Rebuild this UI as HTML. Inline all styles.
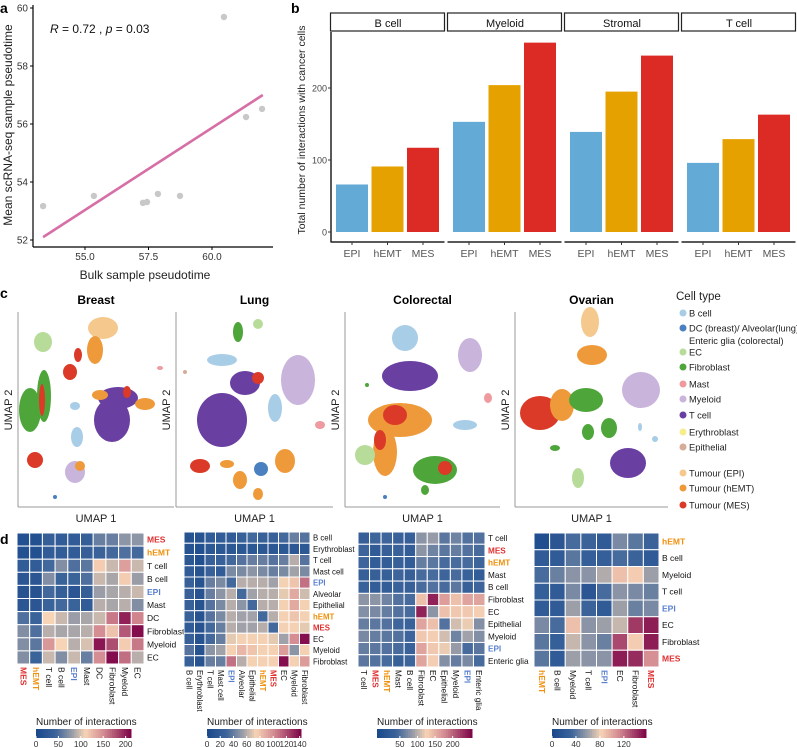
<!DOCTYPE html>
<html><head><meta charset="utf-8">
<style>
body{margin:0;background:#fff;}
svg{display:block;font-family:"Liberation Sans",sans-serif;}
</style></head>
<body>
<svg id="fig" width="797" height="747" viewBox="0 0 797 747" xmlns="http://www.w3.org/2000/svg">
<text x="0" y="13" font-size="14" font-weight="bold">a</text>
<text x="291" y="13" font-size="14" font-weight="bold">b</text>
<text x="0" y="298" font-size="14" font-weight="bold">c</text>
<text x="0" y="544" font-size="14" font-weight="bold">d</text>
<g id="pa"></g>
<g id="pb"></g>
<g id="pc"></g>
<g id="pd"></g>
</svg>
<script>
// ---- Panel a data ----
const scatterX = [53.35,55.35,57.28,57.44,57.87,58.74,60.47,61.34,61.97];
const scatterY = [53.17,53.52,53.28,53.31,53.59,53.52,59.69,56.24,56.52];
const fitX = [53.35,62.0];
const fitY = [52.10,57.0];
const aXTicks = [55.0,57.5,60.0];
const aXTickLabels = ["55.0","57.5","60.0"];
const aYTicks = [52,54,56,58,60];
// ---- Panel b data ----
const facets = ["B cell","Myeloid","Stromal","T cell"];
const groups = ["EPI","hEMT","MES"];
const barEPI = [66,153,139,96];
const barHEMT = [91,204,195,129];
const barMES = [117,263,245,163];
const bYTicks = [0,100,200];
// ---- Panel d data ----
const hm1Labels = ["MES","hEMT","T cell","B cell","EPI","Mast","DC","Fibroblast","Myeloid","EC"];
const hm1Values = [
[10,10,35,30,30,35,60,60,75,75],
[10,10,30,30,30,35,40,45,50,45],
[30,30,45,70,50,55,115,95,140,95],
[20,20,70,40,40,50,95,85,115,80],
[15,15,45,35,20,35,80,85,90,95],
[20,20,40,45,40,30,90,85,90,70],
[50,40,110,95,80,85,95,160,200,155],
[70,50,90,85,85,90,150,120,175,210],
[70,55,145,110,90,100,205,180,115,160],
[70,40,95,70,95,60,150,210,165,90]];
const hm1Ticks = [0,50,100,150,200];
const hm2Labels = ["B cell","Erythroblast","T cell","Mast cell","EPI","Alveolar","Epithelial","hEMT","MES","EC","Myeloid","Fibroblast"];
const hm2Values = [
[10,10,20,20,20,25,30,25,25,30,40,35],
[10,5,15,15,15,15,15,15,15,15,15,15],
[15,5,25,25,30,35,40,40,35,40,60,35],
[20,10,25,20,45,45,50,45,40,45,55,45],
[25,10,40,45,30,60,60,60,55,75,80,110],
[25,10,40,50,60,30,55,60,60,70,90,65],
[25,10,35,45,60,50,30,60,60,75,90,75],
[25,10,35,45,60,55,55,30,60,75,80,75],
[20,10,30,40,60,55,55,60,30,75,75,70],
[25,10,30,40,70,75,75,75,70,55,100,140],
[35,10,50,55,75,85,80,75,75,95,50,75],
[25,10,40,40,110,60,75,75,75,140,75,95]];
const hm2Ticks = [0,20,40,60,80,100,120,140];
const hm3Labels = ["T cell","MES","hEMT","Mast","B cell","Fibroblast","EC","Epithelial","Myeloid","EPI","Enteric glia"];
const hm3Values = [
[30,40,40,35,30,80,85,55,65,50,50],
[40,20,30,35,25,80,65,55,60,50,45],
[40,25,25,30,25,60,55,45,45,45,40],
[30,30,30,40,30,45,45,40,45,35,25],
[35,25,25,35,30,45,50,45,55,30,40],
[80,80,65,50,45,140,240,165,140,160,160],
[75,70,60,50,45,240,80,140,135,135,130],
[60,55,50,40,35,160,140,50,110,120,75],
[70,60,55,50,40,135,130,110,65,90,75],
[60,55,50,45,35,160,135,120,85,45,55],
[55,50,45,30,40,160,130,75,60,70,45]];
const hm3Ticks = [50,100,150,200];
const hm4Labels = ["hEMT","B cell","Myeloid","T cell","EPI","EC","Fibroblast","MES"];
const hm4Values = [
[5,15,35,30,20,50,40,30],
[20,20,40,25,25,35,30,20],
[35,45,55,55,65,90,85,60],
[25,20,50,15,35,55,50,45],
[20,20,60,30,20,60,45,50],
[50,35,90,55,60,70,140,150],
[40,25,70,55,45,135,85,150],
[40,20,60,55,55,150,145,110]];
const hm4Ticks = [0,40,80,120];

const NS="http://www.w3.org/2000/svg";
function mk(tag,attrs,parent,text){const e=document.createElementNS(NS,tag);for(const k in attrs)e.setAttribute(k,attrs[k]);if(text!==undefined)e.textContent=text;parent.appendChild(e);return e;}

// ---- Panel a ----
(function(){
const g=document.getElementById('pa');
const sx=v=>85+(v-55)*25.4, sy=v=>240-(v-52)*29;
mk('line',{x1:33,y1:5,x2:33,y2:247,stroke:'#000','stroke-width':1.2},g);
mk('line',{x1:33,y1:247,x2:273,y2:247,stroke:'#000','stroke-width':1.2},g);
aYTicks.forEach(t=>{
 mk('line',{x1:30,y1:sy(t),x2:33,y2:sy(t),stroke:'#000'},g);
 const l=mk('text',{x:28,y:sy(t)+3.5,'font-size':10,'text-anchor':'end',fill:'#333'},g,String(t));
 
 
});
aXTicks.forEach((t,i)=>{
 mk('line',{x1:sx(t),y1:247,x2:sx(t),y2:250,stroke:'#000'},g);
 const l=mk('text',{x:sx(t),y:260,'font-size':10,'text-anchor':'middle',fill:'#333'},g,aXTickLabels[i]);
 
 
});
scatterX.forEach((x,i)=>{
 const c=mk('circle',{cx:sx(x),cy:sy(scatterY[i]),r:3.2,fill:'#c8c8c8'},g);
 
 
});
const fl=mk('line',{x1:sx(fitX[0]),y1:sy(fitY[0]),x2:sx(fitX[1]),y2:sy(fitY[1]),stroke:'#d66fa6','stroke-width':2.6},g);


const st=mk('text',{x:50,y:33,'font-size':12,fill:'#111'},g);
st.innerHTML='<tspan font-style="italic">R</tspan> = 0.72 , <tspan font-style="italic">p</tspan> = 0.03';


const xt=mk('text',{x:145,y:279,'font-size':12,'text-anchor':'middle',fill:'#222'},g,'Bulk sample pseudotime');


const yt=mk('text',{x:0,y:0,'font-size':12,'text-anchor':'middle',fill:'#222',transform:'translate(12,125) rotate(-90)'},g,'Mean scRNA-seq sample pseudotime');


})();

// ---- Panel b ----
(function(){
const g=document.getElementById('pb');
const sy=v=>232-v*0.72;
const colors=['#63aad6','#e5a100','#dc2a25'];
const series=[barEPI,barHEMT,barMES];
mk('line',{x1:331,y1:32,x2:331,y2:242,stroke:'#222','stroke-width':1.5},g);
bYTicks.forEach(t=>{
 mk('line',{x1:328,y1:sy(t),x2:331,y2:sy(t),stroke:'#333'},g);
 const l=mk('text',{x:327,y:sy(t)+3.5,'font-size':9,'text-anchor':'end',fill:'#444'},g,String(t));
 
 
});
facets.forEach((f,fi)=>{
 const x0=331+fi*117;
 const r=mk('rect',{x:x0-0.5,y:13,width:114,height:18,fill:'#fff',stroke:'#222','stroke-width':1.2},g);
 
 
 const tl=mk('text',{x:x0+57,y:27,'font-size':11,'text-anchor':'middle',fill:'#111'},g,f);
 
 
 mk('line',{x1:x0-0.5,y1:242,x2:x0+113.5,y2:242,stroke:'#222','stroke-width':1.5},g);
 groups.forEach((gr,gi)=>{
  const bx=x0+5+gi*35.5;
  const v=series[gi][fi];
  const b=mk('rect',{x:bx,y:sy(v),width:32,height:sy(0)-sy(v),fill:colors[gi]},g);
  
  
  mk('line',{x1:bx+16,y1:242,x2:bx+16,y2:245,stroke:'#333'},g);
  const l=mk('text',{x:bx+16,y:257,'font-size':10.5,'text-anchor':'middle',fill:'#555'},g,gr);
  
  
 });
});
const yt=mk('text',{x:0,y:0,'font-size':10.5,'text-anchor':'middle',fill:'#222',transform:'translate(305,130) rotate(-90)'},g,'Total number of interactions with cancer cells');


})();

// ---- Panel c ----
(function(){
const g=document.getElementById('pc');
const C={bc:'#a8cde6',dc:'#4a80c0',ec:'#b7dc9a',fb:'#4ea63b',mast:'#ef9a9e',my:'#c9b4dc',tc:'#6a3fa2',ery:'#f6ee8c',epi:'#d7ac96',te:'#f5c98e',th:'#ef9a3a',tm:'#da3a27'};
const panels=[['Breast',18,174],['Lung',176,333],['Colorectal',345,500],['Ovarian',515,668]];
panels.forEach(p=>{
 mk('line',{x1:p[1],y1:312,x2:p[1],y2:507,stroke:'#999'},g);
 mk('line',{x1:p[1],y1:507,x2:p[2],y2:507,stroke:'#999'},g);
 const t=mk('text',{x:(p[1]+p[2])/2,y:304,'font-size':12,'font-weight':'bold','text-anchor':'middle'},g,p[0]);
 
 
 const u1=mk('text',{x:(p[1]+p[2])/2,y:522,'font-size':11,'text-anchor':'middle',fill:'#222'},g,'UMAP 1');
 
 
 const u2=mk('text',{x:0,y:0,'font-size':11,'text-anchor':'middle',fill:'#222',transform:`translate(${p[1]-6},410) rotate(-90)`},g,'UMAP 2');
 
 
});
const blobs=[
[43,342,9,10,'ec'],[30,410,11,22,'fb'],[44,396,7,26,'fb'],[42,400,3,16,'tm'],[103,328,15,11,'te'],[95,350,8,14,'th'],[70,372,7,8,'tm'],[78,355,4,7,'tm'],
[112,420,18,22,'tc'],[118,398,20,11,'tc'],[100,395,8,5,'th'],[145,404,10,6,'th'],[127,392,4,6,'tm'],[75,406,5,4,'bc'],[77,437,6,10,'bc'],[35,460,8,8,'tm'],[75,472,10,11,'my'],[80,466,5,5,'th'],[160,368,3,2,'mast'],[55,497,2,2,'dc'],
[238,332,5,10,'fb'],[258,324,5,5,'ec'],[222,360,15,6,'bc'],[222,420,25,27,'tc'],[245,383,15,12,'tc'],[258,378,6,6,'tm'],[298,380,17,25,'my'],[275,408,7,14,'bc'],[320,425,5,4,'mast'],[185,372,2,2,'epi'],
[200,466,10,7,'tm'],[227,464,7,4,'th'],[240,480,7,9,'th'],[261,469,7,7,'dc'],[285,461,10,12,'th'],[258,494,5,6,'th'],
[405,338,13,13,'bc'],[410,376,28,15,'tc'],[470,355,12,17,'my'],[400,420,32,17,'th'],[395,415,12,10,'tm'],[385,452,12,24,'th'],[380,440,6,10,'tm'],[465,425,12,5,'bc'],[435,470,22,14,'fb'],[445,468,7,7,'tm'],[425,490,4,5,'fb'],[365,455,10,10,'ec'],[488,398,4,5,'mast'],[385,497,2,2,'dc'],[367,385,2,2,'fb'],
[590,322,9,15,'te'],[592,355,15,10,'th'],[540,413,20,17,'tm'],[562,405,12,16,'th'],[586,400,17,12,'fb'],[609,428,8,10,'fb'],[588,432,6,8,'fb'],[641,390,19,18,'my'],[628,463,18,15,'tc'],[578,478,6,10,'ec'],[555,448,5,3,'fb'],[655,439,3,3,'bc'],[640,427,2,4,'bc']];
blobs.forEach(b=>{
 const e=mk('ellipse',{cx:b[0],cy:b[1],rx:b[2],ry:b[3],fill:C[b[4]]},g);
 
 
});
const lt=mk('text',{x:676,y:300,'font-size':11.5,fill:'#222'},g,'Cell type');


const leg=[['B cell','bc',313],['DC (breast)/ Alveolar(lung)/','dc',328],['EC','ec',352],['Fibroblast','fb',367],['Mast','mast',384],['Myeloid','my',399],['T cell','tc',415],['Erythroblast','ery',432],['Epithelial','epi',447],['Tumour (EPI)','te',473],['Tumour (hEMT)','th',488],['Tumour (MES)','tm',505]];
leg.forEach(l=>{
 mk('circle',{cx:683,cy:l[2],r:3.5,fill:C[l[1]]},g);
 const t=mk('text',{x:689,y:l[2]+3.3,'font-size':9.3,fill:'#222'},g,l[0]);
 
 
});
mk('text',{x:689,y:344,'font-size':9.3,fill:'#222'},g,'Enteric glia (colorectal)');
})();

// ---- Panel d ----
(function(){
const g=document.getElementById('pd');
const stops=[[0,[27,74,140]],[0.2,[60,100,155]],[0.38,[155,158,168]],[0.52,[247,212,181]],[0.72,[210,137,145]],[1,[128,8,74]]];
function col(t){t=Math.max(0,Math.min(1,t));for(let i=1;i<stops.length;i++){if(t<=stops[i][0]){const a=stops[i-1],b=stops[i];const f=(t-a[0])/(b[0]-a[0]);return 'rgb('+a[1].map((v,k)=>Math.round(v+(b[1][k]-v)*f)).join(',')+')';}}return 'rgb(128,8,74)';}
const hl={MES:'#e03030',hEMT:'#f0900c',EPI:'#5a80d0'};
function heat(labels,vals,x0,y0,w,h,mn,mx,ticks,bx0,bx1,fs){
 const n=labels.length,cw=w/n,ch=h/n;
 vals.forEach((row,i)=>row.forEach((v,j)=>{
  const r=mk('rect',{x:x0+j*cw,y:y0+i*ch,width:cw,height:ch,fill:col((v-mn)/(mx-mn)),stroke:'#fff','stroke-width':1},g);
  
  
 }));
 labels.forEach((l,i)=>{
  const c=hl[l]||'#111',fw=hl[l]?'bold':'normal';
  const t=mk('text',{x:x0+w+3,y:y0+i*ch+ch/2+3,'font-size':fs,fill:c,'font-weight':fw},g,l);
  
  
  const cx=x0+i*cw+cw/2;
  const t2=mk('text',{x:0,y:0,'font-size':fs,fill:c,'font-weight':fw,transform:`translate(${cx-3},${y0+h+3}) rotate(90)`},g,l);
  
  
 });
 const lt=mk('text',{x:bx0,y:725,'font-size':10,fill:'#222'},g,'Number of interactions');
 
 
 const steps=40;
 for(let k=0;k<steps;k++){mk('rect',{x:bx0+(bx1-bx0)*k/steps,y:729,width:(bx1-bx0)/steps+0.5,height:9,fill:col(k/(steps-1))},g);}
 ticks.forEach(t=>{
  const x=bx0+(t-mn)/(mx-mn)*(bx1-bx0);
  mk('line',{x1:x,y1:736,x2:x,y2:738,stroke:'#fff'},g);
  const tl=mk('text',{x:x,y:747,'font-size':8.3,'text-anchor':'middle',fill:'#333'},g,String(t));
  
  
 });
}
heat(hm1Labels,hm1Values,17,533,127,131,0,212,hm1Ticks,36,131,8.5);
heat(hm2Labels,hm2Values,184,532,126,135,0,142,hm2Ticks,207,301,7.8);
heat(hm3Labels,hm3Values,358,532,127,135,-15,255,hm3Ticks,377,472,8.2);
heat(hm4Labels,hm4Values,534,533,125,134,0,157,hm4Ticks,552,646,8.5);
})();
</script>
</body></html>
